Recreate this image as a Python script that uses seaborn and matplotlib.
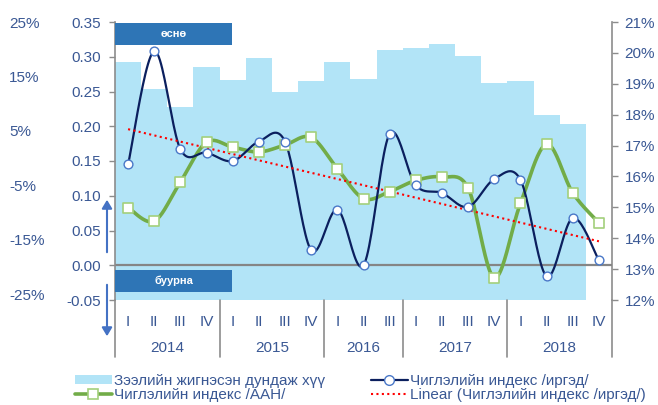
import numpy as np
import pandas as pd
import matplotlib
matplotlib.use("Agg")
import matplotlib.pyplot as plt
import seaborn as sns
from matplotlib.patches import Rectangle, Patch, FancyArrowPatch
from matplotlib.lines import Line2D
import matplotlib.transforms as mtrans

# ---------------- data ----------------
years = ["2014", "2015", "2016", "2017", "2018"]
year_sizes = [4, 4, 3, 4, 4]
quarters = ["I", "II", "III", "IV", "I", "II", "III", "IV", "I", "II", "III",
            "I", "II", "III", "IV", "I", "II", "III", "IV"]
rate = [19.71, 18.83, 18.25, 19.54, 19.12, 19.83, 18.73, 19.09, 19.71, 19.16,
        20.09, 20.16, 20.29, 19.90, 19.03, 19.10, 18.00, 17.70, np.nan]
households = [0.145, 0.308, 0.167, 0.162, 0.150, 0.178, 0.178, 0.0215, 0.080,
              0.000, 0.189, 0.115, 0.104, 0.084, 0.124, 0.123, -0.016, 0.068, 0.007]
business = [0.083, 0.0635, 0.120, 0.177, 0.170, 0.163, 0.173, 0.184, 0.139,
            0.096, 0.106, 0.122, 0.127, 0.111, -0.018, 0.089, 0.174, 0.104, 0.061]
left_ticks = [-0.05, 0.0, 0.05, 0.10, 0.15, 0.20, 0.25, 0.30, 0.35]
right_ticks = list(range(12, 22))
outer_ticks = [25, 15, 5, -5, -15, -25]
legend_labels = ["Зээлийн жигнэсэн дундаж хүү", "Чиглэлийн индекс /ААН/",
                 "Чиглэлийн индекс /иргэд/", "Linear (Чиглэлийн индекс /иргэд/)"]
up_label = "өснө"
down_label = "буурна"

# ---------------- style ----------------
sns.set_style("white")
plt.rcParams["font.family"] = ["Liberation Sans", "DejaVu Sans"]
plt.rcParams["axes.unicode_minus"] = False

TXT = "#3A5894"
SPINE = "#8C8C8C"
BAR = "#B2E4F7"
NAVY = "#0B1F5E"
NAVY_EDGE = "#4A78C8"
GREEN = "#72AC48"
GREEN_EDGE = "#A3D07C"
BOX = "#2E75B6"
FS = 11

pos = np.arange(len(quarters))
df = pd.DataFrame({"pos": pos, "rate": rate, "hh": households, "bus": business})


def smooth(x, y, n=24):
    P = np.column_stack([np.asarray(x, float), np.asarray(y, float)])
    E = np.vstack([P[0], P, P[-1]])
    t = np.linspace(0, 1, n)[:, None]
    out = []
    for i in range(len(P) - 1):
        p0, p1, p2, p3 = E[i], E[i + 1], E[i + 2], E[i + 3]
        c1 = p1 + (p2 - p0) / 6
        c2 = p2 - (p3 - p1) / 6
        seg = (1 - t) ** 3 * p1 + 3 * (1 - t) ** 2 * t * c1 + 3 * (1 - t) * t ** 2 * c2 + t ** 3 * p2
        out.append(seg if i == 0 else seg[1:])
    S = np.vstack(out)
    return S[:, 0], S[:, 1]


fig = plt.figure(figsize=(6.58, 4.05), dpi=100)
ax = fig.add_axes([115 / 658, 105 / 405, 497 / 658, 278 / 405])
ax2 = ax.twinx()
ax3 = ax.twinx()

# bars (right axis)
sns.barplot(data=df, x="pos", y="rate", ax=ax, color=BAR, width=1.0,
            linewidth=0, saturation=1, edgecolor=BAR)
ax.set_ylim(12, 21)
ax.set_xlim(-0.5, len(quarters) - 0.5)
ax.set_xticks(pos)
ax.set_xticklabels(quarters)
ax.tick_params(axis="x", length=0, labelcolor=TXT, labelsize=FS, pad=11)
ax.set_xlabel("")
ax.set_ylabel("")
for s in ["top", "left", "bottom"]:
    ax.spines[s].set_visible(False)
ax.spines["right"].set_color(SPINE)
ax.spines["right"].set_linewidth(1.2)

# lines (inner left axis)
ax2.set_ylim(-0.05, 0.35)
ax2.axhline(0, color="#858585", lw=1.6, zorder=1)
gx, gy = smooth(pos, business)
sns.lineplot(x=gx, y=gy, ax=ax2, color=GREEN, lw=2.6, sort=False, estimator=None, zorder=3)
hx, hy = smooth(pos, households)
sns.lineplot(x=hx, y=hy, ax=ax2, color=NAVY, lw=1.6, sort=False, estimator=None, zorder=4)
coef = np.polyfit(pos, households, 1)
sns.lineplot(x=pos[[0, -1]], y=np.polyval(coef, pos[[0, -1]]), ax=ax2, color="#FF0000",
             lw=1.5, linestyle=(0, (1, 1.6)), zorder=5)
sns.scatterplot(x=pos, y=business, ax=ax2, marker="s", s=42, color="white",
                edgecolor=GREEN_EDGE, linewidth=1.2, zorder=6)
sns.scatterplot(x=pos, y=households, ax=ax2, marker="o", s=40, color="white",
                edgecolor=NAVY_EDGE, linewidth=1.0, zorder=7)
ax2.set_xlim(-0.5, len(quarters) - 0.5)
ax2.set_xlabel("")
ax2.set_ylabel("")
for s in ["top", "right", "bottom"]:
    ax2.spines[s].set_visible(False)
ax2.spines["left"].set_color(SPINE)
ax2.spines["left"].set_linewidth(1.2)

# boxes
bw = 117 / 497
ax2.add_patch(Rectangle((0, 0.917), bw, 0.079, transform=ax2.transAxes, color=BOX,
                        zorder=8, clip_on=False, lw=0))
ax2.text(bw / 2, 0.9565, up_label, transform=ax2.transAxes, ha="center", va="center",
         color="white", fontsize=8, fontweight="bold", zorder=9)
ax2.add_patch(Rectangle((0, 0.0288), bw, 0.079, transform=ax2.transAxes, color=BOX,
                        zorder=8, clip_on=False, lw=0))
ax2.text(bw / 2, 0.068, down_label, transform=ax2.transAxes, ha="center", va="center",
         color="white", fontsize=8, fontweight="bold", zorder=9)

# outer left labels
ax3.set_ylim(25 - 50 * 278 / 272, 25)
for s in ax3.spines.values():
    s.set_visible(False)
ax3.patch.set_visible(False)

# configure y axes after twinning (twinx resets tick side)
ax.yaxis.tick_right()
ax.set_yticks(right_ticks)
ax.set_yticklabels([f"{v}%" for v in right_ticks])
ax.tick_params(axis="y", which="both", left=False, right=True, labelleft=False,
               labelright=True, length=4, width=1, color=SPINE,
               labelcolor=TXT, labelsize=FS, pad=5)

ax2.yaxis.tick_left()
ax2.set_yticks(left_ticks)
ax2.set_yticklabels([f"{v:.2f}" for v in left_ticks])
ax2.tick_params(axis="y", which="both", left=True, right=False, labelleft=True,
                labelright=False, length=4, width=1, color=SPINE,
                labelcolor=TXT, labelsize=FS, pad=6)

ax3.yaxis.tick_left()
ax3.set_yticks(outer_ticks)
ax3.set_yticklabels([f"{v}%" for v in outer_ticks])
ax3.tick_params(axis="y", left=False, right=False, labelleft=True, labelright=False,
                length=0, labelcolor=TXT, labelsize=FS, pad=106 * 0.72)
for lab in ax3.get_yticklabels():
    lab.set_horizontalalignment("left")

# year labels and separators
trans = mtrans.blended_transform_factory(ax.transData, ax.transAxes)
start = 0
bounds = [-0.5]
for yname, n in zip(years, year_sizes):
    ax.text(start + (n - 1) / 2, -0.173, yname, transform=trans, ha="center",
            va="center", color=TXT, fontsize=FS)
    start += n
    bounds.append(start - 0.5)
for b in bounds:
    ax.plot([b, b], [0, -0.205], transform=trans, color=SPINE, lw=1.2, clip_on=False)

# arrows
fig.patches.append(FancyArrowPatch(
    (107 / 658, 1 - 255 / 405), (107 / 658, 1 - 197 / 405), transform=fig.transFigure,
    arrowstyle="-|>,head_length=5,head_width=3", color="#4472C4", lw=1.5))
fig.patches.append(FancyArrowPatch(
    (107 / 658, 1 - 282 / 405), (107 / 658, 1 - 339 / 405), transform=fig.transFigure,
    arrowstyle="-|>,head_length=5,head_width=3", color="#4472C4", lw=1.5))

# legend
LFS = 11
handles = [
    Patch(facecolor=BAR, edgecolor="none"),
    Line2D([], [], color=GREEN, lw=2.6, marker="s", markersize=7,
           markerfacecolor="white", markeredgecolor=GREEN_EDGE, markeredgewidth=1.2),
    Line2D([], [], color=NAVY, lw=1.6, marker="o", markersize=7,
           markerfacecolor="white", markeredgecolor=NAVY_EDGE),
    Line2D([], [], color="#FF0000", lw=1.5, linestyle=(0, (1, 1.6))),
]
leg = fig.legend(handles, legend_labels, ncol=2, loc="upper left",
                 bbox_to_anchor=(75 / 658, 1 - 374 / 405), frameon=False,
                 fontsize=LFS, handlelength=2.4, handletextpad=0.15,
                 columnspacing=3.0, labelspacing=-0.02, borderpad=0,
                 borderaxespad=0, handleheight=0.6)
for t in leg.get_texts():
    t.set_color(TXT)

fig.savefig("out.png", dpi=100)
